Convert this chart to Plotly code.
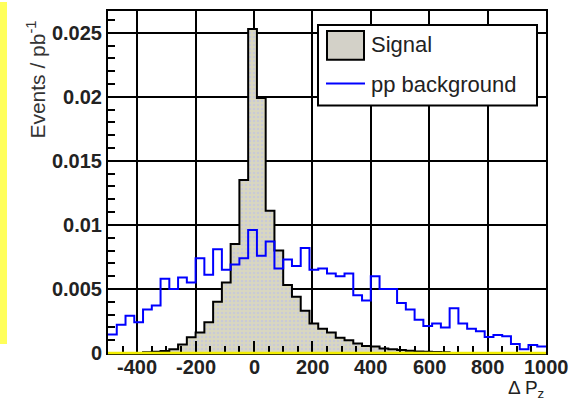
import numpy as np
import plotly.graph_objects as go

# ---- data ----
bin_start = -500
bin_width = 30

signal = [0, 0, 0, 0, 0.00005, 0.0001, 0.00015, 0.0003, 0.00066, 0.00122,
          0.0016, 0.0024, 0.0040, 0.0055, 0.0085, 0.0135, 0.0253, 0.0199, 0.0111, 0.0080,
          0.0053, 0.0044, 0.0033, 0.0023, 0.0019, 0.0016, 0.0012, 0.0010, 0.00075, 0.00055,
          0.0005, 0.00036, 0.0003, 0.00023, 0.00018, 0.00012, 0.0001, 0.00007, 0.00005, 0,
          0, 0, 0, 0, 0, 0, 0, 0, 0, 0]

background = [0.00145, 0.0022, 0.0029, 0.0024, 0.0034, 0.0037, 0.0058, 0.0050, 0.0059, 0.0055,
              0.0074, 0.0061, 0.0081, 0.0065, 0.0069, 0.0074, 0.0096, 0.0076, 0.0087, 0.0066,
              0.0073, 0.0068, 0.0082, 0.0065, 0.0066, 0.0062, 0.0060, 0.0062, 0.0045, 0.0041,
              0.0060, 0.0050, 0.0050, 0.0039, 0.0034, 0.0026, 0.0021, 0.0023, 0.0020, 0.0035,
              0.0023, 0.0019, 0.0017, 0.00125, 0.0014, 0.0013, 0.0007, 0.0003, 0.00063, 0.0005]

x_tick_vals = [-400, -200, 0, 200, 400, 600, 800, 1000]
x_tick_text = ["-400", "-200", "0", "200", "400", "600", "800", "1000"]

series_names = ["Signal", "pp background"]

# ---- geometry helpers ----
W, H = 581, 401
ML, MR, MT, MB = 108, 35, 9, 48
PW, PH = W - ML - MR, H - MT - MB


def px(x):
    return (x - ML) / PW


def py(y):
    return (H - MB - y) / PH


n = len(signal)
edges = bin_start + bin_width * np.arange(n + 1)
centers = edges[:-1] + bin_width / 2

fig = go.Figure()
fig.add_trace(go.Bar(
    x=centers, y=signal, width=bin_width, showlegend=False,
    marker=dict(color="#d4d3c6", line_width=0,
                pattern=dict(shape=".", fgcolor="#b9bdf0", bgcolor="#d9d7bf",
                             size=4, solidity=0.35)),
))
fig.add_trace(go.Scatter(
    x=edges, y=signal + [signal[-1]], mode="lines", showlegend=False,
    line=dict(shape="hv", color="black", width=2),
))
fig.add_trace(go.Scatter(
    x=edges, y=background + [background[-1]], mode="lines", showlegend=False,
    line=dict(shape="hv", color="#0000ff", width=2),
))

tickfont = dict(family="Liberation Sans", size=20, color="#222222", weight="bold")

fig.update_layout(
    width=W, height=H,
    margin=dict(l=ML, r=MR, t=MT, b=MB),
    paper_bgcolor="white", plot_bgcolor="white",
    bargap=0,
    xaxis=dict(
        range=[-500, 1000], tickmode="array", tickvals=x_tick_vals, ticktext=x_tick_text,
        showticklabels=False,
        showgrid=True, gridcolor="black", gridwidth=1.5,
        showline=True, linecolor="black", linewidth=2, mirror=True,
        ticks="inside", ticklen=12, tickcolor="black", tickwidth=1.5,
        minor=dict(tickmode="linear", tick0=0, dtick=50, ticks="inside", ticklen=7,
                   tickcolor="black", tickwidth=1.5, showgrid=False),
        zeroline=False,
    ),
    yaxis=dict(
        range=[0, 0.0267], tick0=0, dtick=0.005,
        showgrid=True, gridcolor="black", gridwidth=1.5,
        showline=True, linecolor="black", linewidth=2, mirror=True,
        ticks="inside", ticklen=12, tickcolor="black", tickwidth=1.5,
        minor=dict(tick0=0, dtick=0.001, ticks="inside", ticklen=7,
                   tickcolor="black", tickwidth=1.5, showgrid=False),
        tickfont=tickfont, zeroline=False,
    ),
)

# x tick labels placed close under the axis (as in the reference)
for v, t in zip(x_tick_vals, x_tick_text):
    fig.add_annotation(text=t, xref="x", yref="paper", x=v, y=py(354),
                       xanchor="center", yanchor="top", showarrow=False,
                       font=tickfont)

# yellow decorations (left strip and bottom axis line)
fig.add_shape(type="rect", xref="paper", yref="paper",
              x0=px(0), x1=px(7), y0=py(344), y1=py(0),
              fillcolor="#ffff5a", line_width=0, layer="above")
fig.add_shape(type="line", xref="paper", yref="paper",
              x0=0, x1=1, y0=0, y1=0, line=dict(color="#f2ee00", width=2.5), layer="above")

# legend box
fig.add_shape(type="rect", xref="paper", yref="paper",
              x0=px(318), x1=px(537), y0=py(104), y1=py(23),
              fillcolor="white", line=dict(color="black", width=2), layer="above")
fig.add_shape(type="rect", xref="paper", yref="paper",
              x0=px(327), x1=px(364), y0=py(58), y1=py(29),
              fillcolor="#d3d1c8", line=dict(color="black", width=2), layer="above")
fig.add_shape(type="line", xref="paper", yref="paper",
              x0=px(326), x1=px(365), y0=py(82), y1=py(82),
              line=dict(color="#0000ff", width=2), layer="above")

legfont = dict(family="Liberation Sans", size=22, color="#222222")
fig.add_annotation(text=series_names[0], xref="paper", yref="paper",
                   x=px(369), y=py(43), xanchor="left", yanchor="middle",
                   showarrow=False, font=legfont)
fig.add_annotation(text=series_names[1], xref="paper", yref="paper",
                   x=px(369), y=py(83), xanchor="left", yanchor="middle",
                   showarrow=False, font=legfont)

# axis titles
fig.add_annotation(text="Events / pb<sup>-1</sup>", xref="paper", yref="paper",
                   x=px(36), y=py(78), xanchor="center", yanchor="middle",
                   textangle=-90, showarrow=False,
                   font=dict(family="Liberation Sans", size=21, color="#333333"))
fig.add_annotation(text="Δ P<sub>z</sub>", xref="paper", yref="paper",
                   x=1.0, y=py(375), xanchor="right", yanchor="top",
                   showarrow=False,
                   font=dict(family="Liberation Sans", size=19, color="#222222"))

fig.write_html("out.html",
               config={"displayModeBar": False},
               post_script="document.body.style.margin='0';document.body.style.overflow='hidden';")
